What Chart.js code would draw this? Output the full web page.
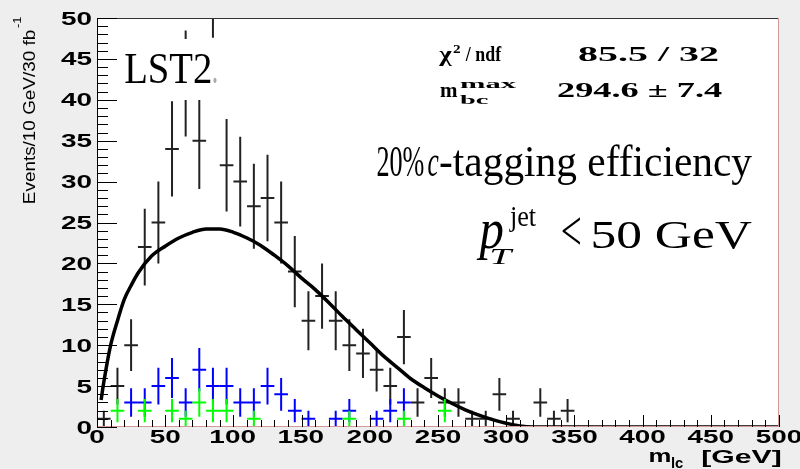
<!DOCTYPE html>
<html><head><meta charset="utf-8">
<script src="https://cdn.jsdelivr.net/npm/chart.js@4.4.0/dist/chart.umd.min.js"></script>
<style>html,body{margin:0;padding:0;background:#eeeeee;}canvas{display:block;}</style>
</head><body>
<canvas id="c" width="800" height="469"></canvas>
<script>
// ---- axis ticks ----
const xTicks = [0, 50, 100, 150, 200, 250, 300, 350, 400, 450, 500];
const yTicks = [0, 5, 10, 15, 20, 25, 30, 35, 40, 45, 50];
const xTickLabels = ['0','50','100','150','200','250','300','350','400','450','500'];
const yTickLabels = ['0','5','10','15','20','25','30','35','40','45','50'];
const binWidth = 10; // GeV

// ---- data: all events (black) ----
const blackX = [5,15,25,35,45,55,65,75,85,95,105,115,125,135,145,155,165,175,185,195,205,215,225,235,245,255,265,275,285,295,305,315,325,335,345];
const blackY = [1,5,10,22,25,34,42,35,55,32,30,27,28,25,19,13,16,13,10,9,7,5,11,3,6,3,3,1,1,4,1,0,3,1,2];
// ---- blue subset ----
const blueX = [25,35,45,55,65,75,85,95,105,115,125,135,145,155,175,185,205,215,225];
const blueY = [3,3,5,6,3,7,5,5,3,3,5,4,2,1,1,2,1,2,3];
// ---- green subset ----
const greenX = [15,35,55,65,75,85,95,115,185,225,255];
const greenY = [2,2,2,1,3,2,2,1,1,1,2];
// ---- fit curve ----
const fitX = [3,5,10,15,20,25,30,40,50,60,70,80,90,100,110,120,130,140,150,160,170,180,190,200,210,220,230,240,250,260,270,280,290,300,310,320,500];
const fitY = [3.3,5.5,10.0,13.0,15.6,17.3,18.8,20.9,22.1,23.1,23.8,24.2,24.2,23.8,23.1,22.2,21.0,19.7,18.2,16.8,15.2,13.5,11.9,10.3,8.7,7.3,5.9,4.8,3.8,2.9,2.1,1.45,0.9,0.45,0.12,0,0];

const pts = (xs, ys) => xs.map((x, i) => ({x: x, y: ys[i]})).filter(p => p.y > 0);
const curve = (xs, ys) => xs.map((x, i) => ({x: x, y: ys[i]}));

function inkText(ctx, s, font, x, y, w, color) {
  ctx.save();
  ctx.font = font; ctx.fillStyle = color || '#000';
  ctx.textAlign = 'left'; ctx.textBaseline = 'alphabetic';
  const m = ctx.measureText(s);
  const ink = m.actualBoundingBoxRight + m.actualBoundingBoxLeft;
  const sx = w ? w / ink : 1;
  ctx.translate(x, y); ctx.scale(sx, 1);
  ctx.fillText(s, m.actualBoundingBoxLeft, 0);
  ctx.restore();
}
function labelText(ctx, s, font, x, y, sx, align) {
  ctx.save();
  ctx.font = font; ctx.fillStyle = '#000';
  ctx.textAlign = 'left'; ctx.textBaseline = 'alphabetic';
  const m = ctx.measureText(s);
  const ink = (m.actualBoundingBoxRight + m.actualBoundingBoxLeft) * sx;
  let left = x;
  if (align === 'center') left = x - ink / 2;
  if (align === 'right') left = x - ink;
  ctx.translate(left, y); ctx.scale(sx, 1);
  ctx.fillText(s, m.actualBoundingBoxLeft, 0);
  ctx.restore();
}

const rootPlugin = {
  id: 'rootStyle',
  beforeDraw(chart) {
    const {ctx, chartArea: a} = chart;
    ctx.save();
    ctx.fillStyle = '#eeeeee'; ctx.fillRect(0, 0, chart.width, chart.height);
    ctx.fillStyle = '#ffffff'; ctx.fillRect(a.left, a.top, a.right - a.left, a.bottom - a.top);
    ctx.restore();
  },
  afterDatasetDraw(chart, args) {
    const ds = chart.data.datasets[args.index];
    if (!ds.errorCross) return;
    const {ctx, chartArea: a} = chart;
    const xs = chart.scales.x, ys = chart.scales.y;
    ctx.save();
    ctx.beginPath(); ctx.rect(a.left, a.top, a.right - a.left, a.bottom - a.top); ctx.clip();
    ctx.strokeStyle = ds.borderColor; ctx.lineWidth = 2; ctx.lineCap = 'butt';
    ds.data.forEach(p => {
      const e = Math.sqrt(p.y);
      const px = xs.getPixelForValue(p.x), py = ys.getPixelForValue(p.y);
      const x0 = xs.getPixelForValue(p.x - binWidth / 2), x1 = xs.getPixelForValue(p.x + binWidth / 2);
      const yt = ys.getPixelForValue(p.y + e), yb = ys.getPixelForValue(p.y - e);
      ctx.beginPath();
      ctx.moveTo(x0, py); ctx.lineTo(x1, py);
      ctx.moveTo(px, yt); ctx.lineTo(px, yb);
      ctx.stroke();
    });
    ctx.restore();
  },
  afterDraw(chart) {
    const {ctx, chartArea: a} = chart;
    const xs = chart.scales.x, ys = chart.scales.y;
    ctx.save();
    // LST2 label with white box
    ctx.fillStyle = '#ffffff';
    ctx.fillRect(120, 39, 102, 61);
    inkText(ctx, 'LST2', '45px "Liberation Serif"', 125, 83, 86);
    inkText(ctx, '.', '45px "Liberation Serif"', 213, 83, 4, '#aaaaaa');

    // frame
    ctx.lineWidth = 1;
    ctx.strokeStyle = '#333333';
    ctx.beginPath(); ctx.moveTo(a.left, a.top + 0.5); ctx.lineTo(a.right, a.top + 0.5); ctx.stroke();
    ctx.strokeStyle = '#000000';
    ctx.beginPath(); ctx.moveTo(a.left + 0.5, a.top); ctx.lineTo(a.left + 0.5, a.bottom); ctx.stroke();
    ctx.strokeStyle = '#d49a9a';
    ctx.beginPath(); ctx.moveTo(a.right - 0.5, a.top); ctx.lineTo(a.right - 0.5, a.bottom); ctx.stroke();
    ctx.beginPath(); ctx.moveTo(a.left, a.bottom - 0.5); ctx.lineTo(a.right, a.bottom - 0.5); ctx.stroke();

    // ticks
    ctx.strokeStyle = '#000000';
    ctx.beginPath();
    for (let v = 0; v <= 50; v += 1) {
      const py = Math.round(ys.getPixelForValue(v)) + 0.5;
      const len = (v % 5 === 0) ? 20 : 11;
      ctx.moveTo(a.left, py); ctx.lineTo(a.left + len, py);
    }
    for (let v = 0; v <= 500; v += 10) {
      const px = Math.round(xs.getPixelForValue(v)) + 0.5;
      const len = (v % 50 === 0) ? 12 : 7;
      ctx.moveTo(px, a.bottom); ctx.lineTo(px, a.bottom - len);
    }
    ctx.stroke();

    // tick labels
    const lf = 'bold 18px "Liberation Sans"';
    yTicks.forEach((v, i) => labelText(ctx, yTickLabels[i], lf, 92, ys.getPixelForValue(v) + 6.5, 1.55, 'right'));
    xTicks.forEach((v, i) => labelText(ctx, xTickLabels[i], lf, xs.getPixelForValue(v), 443, 1.55, 'center'));

    // x title
    inkText(ctx, 'm', 'bold 18px "Liberation Sans"', 650, 462, 20);
    inkText(ctx, 'lc', 'bold 15px "Liberation Sans"', 672, 468, 11);
    inkText(ctx, '[GeV]', 'bold 18px "Liberation Sans"', 703, 463, 77);

    // y title (rotated)
    ctx.save();
    ctx.translate(35, 203); ctx.rotate(-Math.PI / 2);
    inkText(ctx, 'Events/10 GeV/30 fb', '16.5px "Liberation Sans"', 0, 0, 173);
    inkText(ctx, '-1', '10px "Liberation Sans"', 175, -14, 12);
    ctx.restore();

    // fit box text
    const bf = 'bold 21px "Liberation Serif"';
    inkText(ctx, 'χ', bf, 438, 61, 14);
    inkText(ctx, '2', 'bold 13px "Liberation Serif"', 453, 53, 7);
    inkText(ctx, '/ ndf', bf, 465, 61, 37);
    inkText(ctx, '85.5 / 32', bf, 578, 61, 140);
    inkText(ctx, 'm', bf, 440, 97, 18);
    inkText(ctx, 'max', 'bold 12px "Liberation Serif"', 460, 88, 56);
    inkText(ctx, 'bc', 'bold 12px "Liberation Serif"', 460, 104, 30);
    inkText(ctx, '294.6 ± 7.4', bf, 557, 97, 166);

    // annotation
    inkText(ctx, '20%', '44px "Liberation Serif"', 377, 176, 47);
    inkText(ctx, 'c', 'italic 44px "Liberation Serif"', 428, 176, 11);
    inkText(ctx, '-tagging efficiency', '44px "Liberation Serif"', 440, 176, 312);
    inkText(ctx, 'p', 'italic 56px "Liberation Serif"', 476, 248, 27);
    inkText(ctx, 'jet', '29px "Liberation Serif"', 509, 226, 27);
    inkText(ctx, 'T', 'italic 24px "Liberation Serif"', 491, 264, 23);
    inkText(ctx, '<', '58px "Liberation Serif"', 562, 250, 18);
    inkText(ctx, '50 GeV', '40px "Liberation Serif"', 593, 248, 159);
    ctx.restore();
  }
};

new Chart(document.getElementById('c'), {
  type: 'scatter',
  data: {
    datasets: [
      {label: 'data', data: pts(blackX, blackY), borderColor: '#222222', backgroundColor: '#222222',
       pointRadius: 0, showLine: false, errorCross: true, order: 4},
      {label: 'fit', data: curve(fitX, fitY), borderColor: '#000000', borderWidth: 3.5,
       pointRadius: 0, showLine: true, fill: false, cubicInterpolationMode: 'monotone', order: 3},
      {label: 'blue', data: pts(blueX, blueY), borderColor: '#0000ff', backgroundColor: '#0000ff',
       pointRadius: 0, showLine: false, errorCross: true, order: 2},
      {label: 'green', data: pts(greenX, greenY), borderColor: '#00ff00', backgroundColor: '#00ff00',
       pointRadius: 0, showLine: false, errorCross: true, order: 1}
    ]
  },
  options: {
    responsive: false, animation: false, devicePixelRatio: 1,
    layout: {padding: {left: 97, top: 18, right: 21, bottom: 42}},
    plugins: {legend: {display: false}, tooltip: {enabled: false}},
    scales: {
      x: {type: 'linear', min: 0, max: 500, display: false},
      y: {type: 'linear', min: 0, max: 50, display: false}
    }
  },
  plugins: [rootPlugin]
});
</script>
</body></html>
